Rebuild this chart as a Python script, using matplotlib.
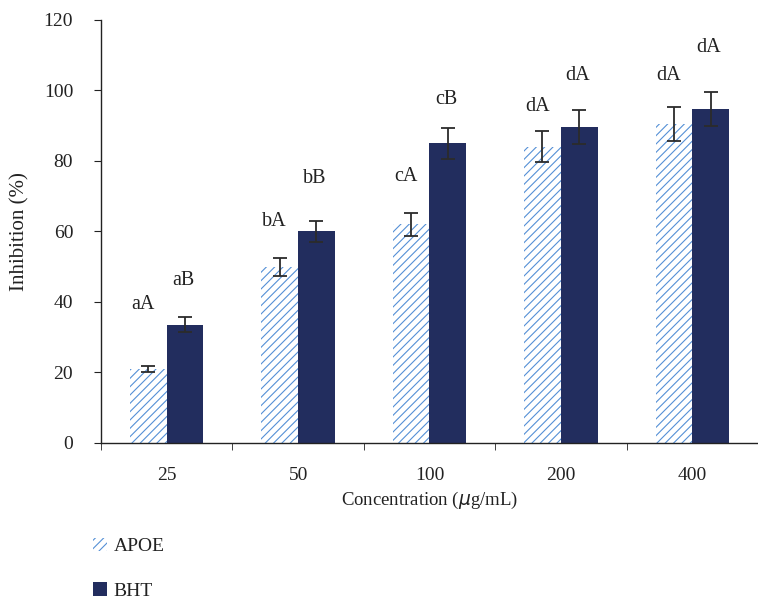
import matplotlib
matplotlib.use("Agg")
import matplotlib.pyplot as plt
import numpy as np
from matplotlib.patches import Patch

plt.rcParams['font.family'] = ['Liberation Serif', 'DejaVu Serif']
plt.rcParams['hatch.linewidth'] = 0.8
plt.rcParams['hatch.color'] = '#5590d6'

# data
concentrations = ['25', '50', '100', '200', '400']
apoe = [21.0, 50.0, 62.0, 84.0, 90.5]
apoe_err = [0.9, 2.5, 3.2, 4.4, 4.7]
bht = [33.5, 60.0, 85.0, 89.6, 94.8]
bht_err = [2.1, 3.0, 4.4, 4.8, 4.8]
apoe_letters = ['aA', 'bA', 'cA', 'dA', 'dA']
bht_letters = ['aB', 'bB', 'cB', 'dA', 'dA']
apoe_label_y = [39.3, 62.8, 75.7, 95.5, 104.3]
bht_label_y = [46.0, 75.0, 97.4, 104.3, 112.3]

navy = '#222d5e'
hatch_blue = '#5590d6'
ink = '#222222'

fig = plt.figure(figsize=(7.58, 6.0), dpi=100)
ax = fig.add_axes([0.1332, 0.2617, 0.8668, 0.705])

x = np.arange(len(concentrations))
w = 0.28

ax.bar(x - w / 2, apoe, w, color='white', edgecolor=hatch_blue, hatch='////', linewidth=0)
ax.bar(x + w / 2, bht, w, color=navy, linewidth=0)
ax.errorbar(x - w / 2, apoe, yerr=apoe_err, fmt='none', ecolor='#2b2b2b', elinewidth=1.3, capsize=5, capthick=1.3)
ax.errorbar(x + w / 2, bht, yerr=bht_err, fmt='none', ecolor='#2b2b2b', elinewidth=1.3, capsize=5, capthick=1.3)

# significance letters, roughly centred over each bar
for i in range(len(x)):
    ax.text(x[i] - w / 2 - 0.04, apoe_label_y[i], apoe_letters[i], ha='center', va='center', fontsize=14.5, color=ink)
    ax.text(x[i] + w / 2 - 0.015, bht_label_y[i], bht_letters[i], ha='center', va='center', fontsize=14.5, color=ink)

ax.set_xlim(-0.5, 4.42)
ax.set_ylim(0, 120)
ax.set_yticks(range(0, 121, 20))
ax.set_xticks(x)
ax.set_xticklabels(concentrations)
ax.set_xticks(np.arange(-0.5, 4.6, 1), minor=True)
ax.tick_params(axis='x', which='major', length=0, pad=17.5, labelsize=14, colors=ink)
ax.tick_params(axis='x', which='minor', length=5, direction='out', color=ink)
ax.tick_params(axis='y', length=5, direction='out', labelsize=14, pad=15, colors=ink)

for s in ['top', 'right']:
    ax.spines[s].set_visible(False)
for s in ['left', 'bottom']:
    ax.spines[s].set_color(ink)
    ax.spines[s].set_linewidth(1.0)

ax.set_xlabel('Concentration ($\\mathit{\\mu}$g/mL)', fontsize=13.5, color=ink, labelpad=4)
ax.set_ylabel('Inhibition (%)', fontsize=15, color=ink, labelpad=10)

handles = [Patch(facecolor='white', edgecolor=hatch_blue, hatch='////', linewidth=0, label='APOE'),
           Patch(facecolor=navy, linewidth=0, label='BHT')]
fig.legend(handles=handles, loc='upper left', bbox_to_anchor=(0.113, 0.117), frameon=False,
           fontsize=14, handlelength=0.68, handleheight=0.68, handletextpad=0.36, labelspacing=1.41,
           borderaxespad=0, labelcolor=ink)

fig.savefig('out.png', dpi=100)
